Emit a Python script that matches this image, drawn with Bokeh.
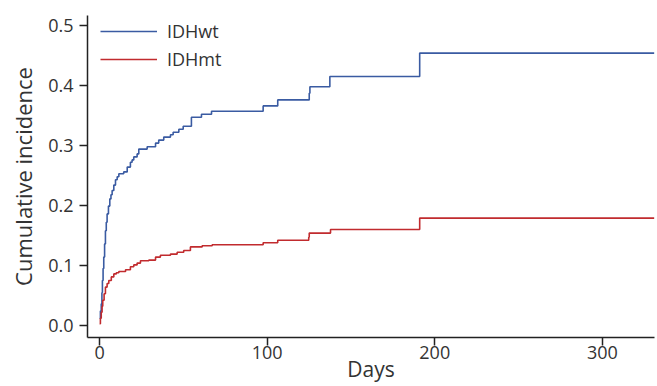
from bokeh.plotting import figure
from bokeh.models import (Range1d, FixedTicker, PrintfTickFormatter, Legend, LegendItem,
                          ColumnDataSource)
from bokeh.embed import file_html
from bokeh.resources import INLINE

# ---- data ----
wt_days = [0.0, 0.5, 1.0, 1.4, 1.7, 2.1, 2.5, 3.0, 3.5, 4.0, 4.5, 5.3, 6.1, 6.8, 7.5, 8.5, 9.5,
           10.5, 11.5, 14.4, 16.5, 18.4, 19.4, 20.4, 22.4, 23.4, 28.4, 33.4, 35.3, 38.3, 42.3,
           43.9, 47.3, 49.9, 54.8, 60.8, 66.8, 97.6, 106.3, 125.1, 125.5, 137.4, 191.0, 331.0]
wt_inc = [0.012, 0.024, 0.036, 0.055, 0.075, 0.095, 0.114, 0.136, 0.158, 0.172, 0.186, 0.199,
          0.211, 0.218, 0.225, 0.234, 0.243, 0.248, 0.253, 0.256, 0.264, 0.272, 0.276, 0.281,
          0.286, 0.294, 0.298, 0.304, 0.309, 0.314, 0.318, 0.322, 0.327, 0.332, 0.347, 0.352,
          0.357, 0.366, 0.376, 0.387, 0.398, 0.415, 0.454, 0.454]

mt_days = [0.0, 0.5, 1.0, 1.5, 1.9, 2.7, 3.5, 4.5, 5.5, 7.0, 8.5, 10.0, 11.5, 15.5, 18.4, 20.4,
           22.4, 24.4, 29.4, 33.4, 36.3, 42.3, 46.3, 50.2, 54.2, 61.2, 67.2, 97.6, 106.3, 124.8,
           125.1, 137.8, 191.0, 331.0]
mt_inc = [0.003, 0.012, 0.022, 0.032, 0.042, 0.053, 0.064, 0.070, 0.075, 0.081, 0.086, 0.088,
          0.090, 0.093, 0.098, 0.101, 0.104, 0.108, 0.109, 0.114, 0.117, 0.119, 0.122, 0.125,
          0.131, 0.133, 0.1345, 0.138, 0.142, 0.147, 0.154, 0.160, 0.179, 0.179]

series_names = ["IDHwt", "IDHmt"]
y_ticks = [0.0, 0.1, 0.2, 0.3, 0.4, 0.5]
x_ticks = [0, 100, 200, 300]
x_title = "Days"
y_title = "Cumulative incidence"

FONT = "Open Sans"
TXT = "#333333"
X0, X1 = -7.2, 331.1
Y0, Y1 = -0.02, 0.5167

p = figure(width=657, height=385, output_backend="svg", toolbar_location=None,
           x_range=Range1d(X0, X1), y_range=Range1d(Y0, Y1),
           min_border_left=87, min_border_right=3, min_border_top=15, min_border_bottom=48)
p.outline_line_color = None
p.grid.visible = False
p.background_fill_color = "white"

src_wt = ColumnDataSource(dict(x=wt_days, y=wt_inc))
src_mt = ColumnDataSource(dict(x=mt_days, y=mt_inc))
r_wt = p.step("x", "y", source=src_wt, mode="after", line_color="#3A5BA2", line_width=1.6)
r_mt = p.step("x", "y", source=src_mt, mode="after", line_color="#C12B2E", line_width=1.6)

for ax in (p.xaxis[0], p.yaxis[0]):
    ax.axis_line_color = "#222222"
    ax.axis_line_width = 1.5
    ax.major_tick_line_color = "#222222"
    ax.major_tick_line_width = 1.5
    ax.major_tick_out = 8
    ax.major_tick_in = 0
    ax.minor_tick_line_color = None
    ax.major_label_text_font = FONT
    ax.major_label_text_font_size = "18px"
    ax.major_label_text_color = TXT
    ax.axis_label_text_font = FONT
    ax.axis_label_text_font_style = "normal"
    ax.axis_label_text_color = TXT

p.xaxis.ticker = FixedTicker(ticks=x_ticks)
p.yaxis.ticker = FixedTicker(ticks=y_ticks)
p.yaxis.formatter = PrintfTickFormatter(format="%.1f")
p.yaxis.axis_label = y_title
p.yaxis.axis_label_text_font_size = "22px"
p.yaxis.major_label_standoff = 6
p.yaxis.axis_label_standoff = 7

p.xaxis.axis_label = x_title
p.xaxis.axis_label_text_font_size = "21px"
p.xaxis.major_label_standoff = 0
p.xaxis.axis_label_standoff = -7

legend = Legend(items=[LegendItem(label=series_names[0], renderers=[r_wt]),
                       LegendItem(label=series_names[1], renderers=[r_mt])],
                location=(13, 266))
legend.padding = 0
legend.margin = 0
legend.spacing = 4
legend.glyph_width = 57
legend.glyph_height = 20
legend.label_height = 20
legend.label_standoff = 10
legend.label_text_font = FONT
legend.label_text_font_size = "18px"
legend.label_text_color = TXT
legend.border_line_color = None
legend.background_fill_alpha = 0
p.add_layout(legend)

open("out.html", "w").write(file_html(p, INLINE))
